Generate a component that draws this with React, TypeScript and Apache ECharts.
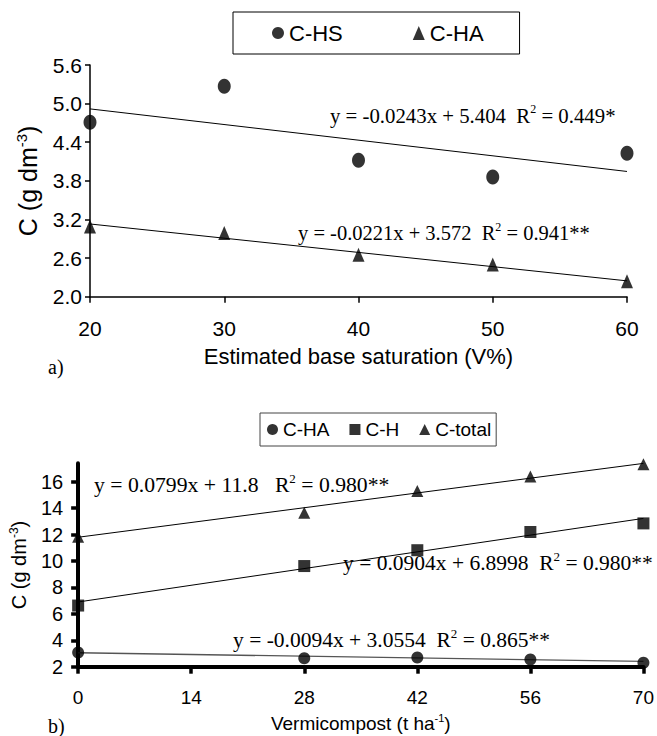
import React, { useEffect, useRef } from "react";
import * as echarts from "echarts";

// ---- Panel a) ----
const topX = [20, 30, 40, 50, 60];
const topCHS = [4.71, 5.27, 4.12, 3.86, 4.23];
const topCHA = [3.09, 2.99, 2.65, 2.5, 2.24];
const topYTicks = [2.0, 2.6, 3.2, 3.8, 4.4, 5.0, 5.6];
const topXTicks = [20, 30, 40, 50, 60];
const topSlopes = [-0.0243, -0.0221];
const topIntercepts = [5.404, 3.572];
const topEquations = [
  "y = -0.0243x + 5.404  R{sup|2} = 0.449*",
  "y = -0.0221x + 3.572  R{sup|2} = 0.941**",
];

// ---- Panel b) ----
const botX = [0, 28, 42, 56, 70];
const botCHA = [3.07, 2.64, 2.7, 2.55, 2.3];
const botCH = [6.63, 9.62, 10.82, 12.2, 12.85];
const botCTotal = [11.84, 13.66, 15.3, 16.4, 17.32];
const botYTicks = [2, 4, 6, 8, 10, 12, 14, 16];
const botXTicks = [0, 14, 28, 42, 56, 70];
const botSlopes = [-0.0094, 0.0904, 0.0799];
const botIntercepts = [3.0554, 6.8998, 11.8];
const botEquations = [
  "y = -0.0094x + 3.0554  R{sup|2} = 0.865**",
  "y = 0.0904x + 6.8998  R{sup|2} = 0.980**",
  "y = 0.0799x + 11.8   R{sup|2} = 0.980**",
];

const SANS = "'Liberation Sans', Arial, sans-serif";
const SERIF = "'Liberation Serif', 'Times New Roman', serif";

const pairs = (xs: number[], ys: number[]) => xs.map((x, i) => [x, ys[i]]);
const fitLine = (slope: number, intercept: number, x0: number, x1: number) => [
  [x0, slope * x0 + intercept],
  [x1, slope * x1 + intercept],
];

const supRich = (size: number, family: string) => ({
  sup: {
    fontFamily: family,
    fontSize: Math.round(size * 0.6),
    lineHeight: Math.round(size * 0.6),
    verticalAlign: "top",
    color: "#000",
    fill: "#000",
  },
});

export default function App() {
  const ref = useRef<HTMLDivElement>(null);
  useEffect(() => {
    if (!ref.current) return;
    const chart = echarts.init(ref.current, undefined, { renderer: "svg" });

    const eqText = (text: string, x: number, y: number, size: number) => ({
      type: "text",
      x,
      y,
      style: {
        text,
        fill: "#000",
        fontFamily: SERIF,
        fontSize: size,
        verticalAlign: "middle",
        align: "left",
        lineHeight: size + 4,
        rich: supRich(size, SERIF),
      },
    });

    const option: any = {
      animation: false,
      backgroundColor: "#fff",
      legend: [
        {
          data: [
            { name: "C-HS", icon: "circle" },
            { name: "C-HA", icon: "triangle" },
          ],
          left: 233,
          top: 12,
          orient: "horizontal",
          selectedMode: false,
          borderColor: "#000",
          borderWidth: 1,
          padding: [10, 36, 10, 39],
          itemGap: 70,
          itemWidth: 12,
          itemHeight: 14,
          textStyle: { fontFamily: SANS, fontSize: 22, color: "#000" },
        },
        {
          data: [
            { name: "C-HA", icon: "circle" },
            { name: "C-H", icon: "rect" },
            { name: "C-total", icon: "triangle" },
          ],
          left: 260,
          top: 413,
          orient: "horizontal",
          selectedMode: false,
          borderColor: "#444",
          borderWidth: 1,
          padding: [7, 5, 7, 7],
          itemGap: 20,
          itemWidth: 11,
          itemHeight: 11,
          textStyle: { fontFamily: SANS, fontSize: 19, color: "#000" },
        },
      ],
      grid: [
        { left: 90, right: 30, top: 65, height: 231.7, containLabel: false },
        { left: 77.3, right: 11, top: 463.3, height: 203.4, containLabel: false },
      ],
      xAxis: [
        {
          gridIndex: 0,
          type: "value",
          min: 20,
          max: 60,
          interval: 10,
          name: "Estimated base saturation (V%)",
          nameLocation: "middle",
          nameGap: 49,
          nameTextStyle: { fontFamily: SANS, fontSize: 22, color: "#000" },
          axisLine: { show: true, onZero: false, lineStyle: { color: "#000", width: 1.5 } },
          axisTick: { show: true, length: 6, lineStyle: { color: "#000", width: 1.5 }, customValues: topXTicks },
          axisLabel: { margin: 21, fontFamily: SANS, fontSize: 21, color: "#000", customValues: topXTicks },
          splitLine: { show: false },
        },
        {
          gridIndex: 1,
          type: "value",
          min: 0,
          max: 70,
          interval: 14,
          name: "Vermicompost (t ha{sup|-1})",
          nameLocation: "middle",
          nameGap: 46,
          nameTextStyle: {
            fontFamily: SANS,
            fontSize: 19,
            color: "#000",
            lineHeight: 22,
            rich: supRich(19, SANS),
          },
          axisLine: { show: true, onZero: false, lineStyle: { color: "#000", width: 4 } },
          axisTick: { show: true, length: 7, lineStyle: { color: "#000", width: 3.5 }, customValues: botXTicks },
          axisLabel: { margin: 21, fontFamily: SANS, fontSize: 19, color: "#000", customValues: botXTicks },
          splitLine: { show: false },
        },
      ],
      yAxis: [
        {
          gridIndex: 0,
          type: "value",
          min: 2.0,
          max: 5.6,
          name: "C (g dm{sup|-3})",
          nameLocation: "middle",
          nameRotate: 90,
          nameGap: 46,
          nameTextStyle: {
            fontFamily: SANS,
            fontSize: 25,
            color: "#000",
            lineHeight: 28,
            rich: supRich(25, SANS),
          },
          axisLine: { show: true, onZero: false, lineStyle: { color: "#000", width: 1.5 } },
          axisTick: { show: true, length: 5, lineStyle: { color: "#000", width: 1.5 }, customValues: topYTicks },
          axisLabel: {
            margin: 8,
            fontFamily: SANS,
            fontSize: 21,
            color: "#000",
            customValues: topYTicks,
            formatter: (v: number) => v.toFixed(1),
          },
          splitLine: { show: false },
        },
        {
          gridIndex: 1,
          type: "value",
          min: 2,
          max: 17.4,
          name: "C (g dm{sup|-3})",
          nameLocation: "middle",
          nameRotate: 90,
          nameGap: 42,
          nameTextStyle: {
            fontFamily: SANS,
            fontSize: 20,
            color: "#000",
            lineHeight: 22,
            rich: supRich(20, SANS),
          },
          axisLine: { show: true, onZero: false, lineStyle: { color: "#000", width: 4 } },
          axisTick: { show: true, length: 7, lineStyle: { color: "#000", width: 3.5 }, customValues: botYTicks },
          axisLabel: { margin: 15, fontFamily: SANS, fontSize: 20, color: "#000", customValues: botYTicks },
          splitLine: { show: false },
        },
      ],
      series: [
        // trend lines, panel a
        ...topSlopes.map((s, i) => ({
          type: "line",
          name: "fitA" + i,
          xAxisIndex: 0,
          yAxisIndex: 0,
          data: fitLine(s, topIntercepts[i], topX[0], topX[topX.length - 1]),
          symbol: "none",
          silent: true,
          lineStyle: { color: "#000", width: 1 },
          z: 1,
        })),
        {
          type: "scatter",
          name: "C-HS",
          xAxisIndex: 0,
          yAxisIndex: 0,
          data: pairs(topX, topCHS),
          symbol: "circle",
          symbolSize: [13, 15],
          itemStyle: { color: "#000" },
          z: 3,
        },
        {
          type: "scatter",
          name: "C-HA",
          xAxisIndex: 0,
          yAxisIndex: 0,
          data: pairs(topX, topCHA),
          symbol: "triangle",
          symbolSize: [12, 14],
          itemStyle: { color: "#000" },
          z: 3,
        },
        // trend lines, panel b
        ...botSlopes.map((s, i) => ({
          type: "line",
          name: "fitB" + i,
          xAxisIndex: 1,
          yAxisIndex: 1,
          data: fitLine(s, botIntercepts[i], botX[0], botX[botX.length - 1]),
          symbol: "none",
          silent: true,
          lineStyle: { color: i === 0 ? "#555" : "#000", width: i === 0 ? 1.3 : 1 },
          z: 1,
        })),
        {
          type: "scatter",
          name: "C-HA",
          xAxisIndex: 1,
          yAxisIndex: 1,
          data: pairs(botX, botCHA),
          symbol: "circle",
          symbolSize: 12,
          itemStyle: { color: "#000" },
          z: 3,
        },
        {
          type: "scatter",
          name: "C-H",
          xAxisIndex: 1,
          yAxisIndex: 1,
          data: pairs(botX, botCH),
          symbol: "rect",
          symbolSize: 12,
          itemStyle: { color: "#000" },
          z: 3,
        },
        {
          type: "scatter",
          name: "C-total",
          xAxisIndex: 1,
          yAxisIndex: 1,
          data: pairs(botX, botCTotal),
          symbol: "triangle",
          symbolSize: [12, 12],
          itemStyle: { color: "#000" },
          z: 3,
        },
      ],
      graphic: [
        eqText(topEquations[0], 330, 115, 20.8),
        eqText(topEquations[1], 298, 233, 20.5),
        eqText(botEquations[2], 94, 485, 21.7),
        eqText(botEquations[1], 343, 563, 21.5),
        eqText(botEquations[0], 233, 640, 21.5),
        {
          type: "text",
          x: 48,
          y: 367,
          style: { text: "a)", fill: "#000", fontFamily: SERIF, fontSize: 20, verticalAlign: "middle" },
        },
        {
          type: "text",
          x: 48,
          y: 726,
          style: { text: "b)", fill: "#000", fontFamily: SERIF, fontSize: 20, verticalAlign: "middle" },
        },
      ],
    };

    chart.setOption(option);
    return () => chart.dispose();
  }, []);

  return (
    <div
      ref={ref}
      style={{ position: "absolute", left: 0, top: 0, width: 657, height: 736, background: "#fff" }}
    />
  );
}
